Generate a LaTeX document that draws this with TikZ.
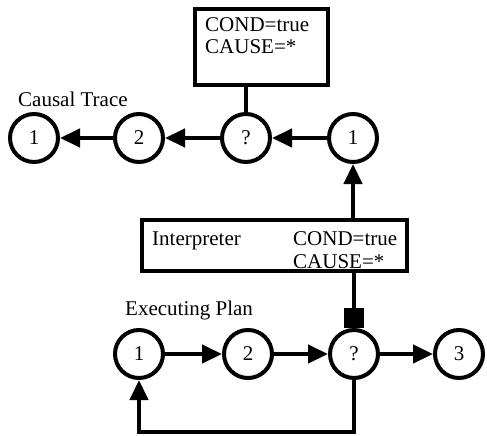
\documentclass[tikz,border=0pt]{standalone}
\usepackage{fontspec}
\setmainfont{Liberation Serif}
\usetikzlibrary{arrows.meta}
\tikzset{
  st/.style={circle,draw,line width=4pt,minimum size=48pt,inner sep=0pt},
  bx/.style={draw,line width=4pt,inner sep=0pt},
  lbl/.style={inner sep=0pt,anchor=base west},
  conn/.style={line width=4.5pt},
  arr/.style={conn,-{Triangle[length=20pt,width=18pt]}},
  sqr/.style={conn,-{Square[length=20pt,width=20pt]}},
}
\begin{document}
\begin{tikzpicture}[x=1pt,y=-1pt,font=\fontsize{21}{23}\selectfont]
\useasboundingbox (0,0) rectangle (487,436);
% causal trace
\node[st] (t1) at (34,138) {1};
\node[st] (t2) at (139,138) {2};
\node[st] (t3) at (246,138) {?};
\node[st] (t4) at (353,138) {1};
\node[lbl] (ct) at (18,106) {Causal Trace};
\node[bx,minimum width=133pt,minimum height=76pt] (topbox) at (261.5,47) {};
\node[lbl] (tc1) at (205,32) {COND=true};
\node[lbl] (tc2) at (205,54) {CAUSE=*};
% interpreter
\node[bx,minimum width=265pt,minimum height=51pt] (interp) at (274.5,245.5) {};
\node[lbl] (it) at (152,245) {Interpreter};
\node[lbl] (ic1) at (293,245) {COND=true};
\node[lbl] (ic2) at (293,268) {CAUSE=*};
% executing plan
\node[st] (b1) at (139,354) {1};
\node[st] (b2) at (248,354) {2};
\node[st] (b3) at (354,354) {?};
\node[st] (b4) at (459,354) {3};
\node[lbl] (ep) at (125,315) {Executing Plan};
\coordinate (lp) at (0,432);
% connectors
\draw[arr] (t4) -- (t3);
\draw[arr] (t3) -- (t2);
\draw[arr] (t2) -- (t1);
\draw[conn] (t3.north) -- (t3.north |- topbox.south);
\draw[arr] (t4.south |- interp.north) -- (t4.south);
\draw[sqr] (b3.north |- interp.south) -- (b3.north);
\draw[arr] (b1) -- (b2);
\draw[arr] (b2) -- (b3);
\draw[arr] (b3) -- (b4);
\draw[arr] (b3.south) -- (b3.south |- lp) -- (b1.south |- lp) -- (b1.south);
\end{tikzpicture}
\end{document}
